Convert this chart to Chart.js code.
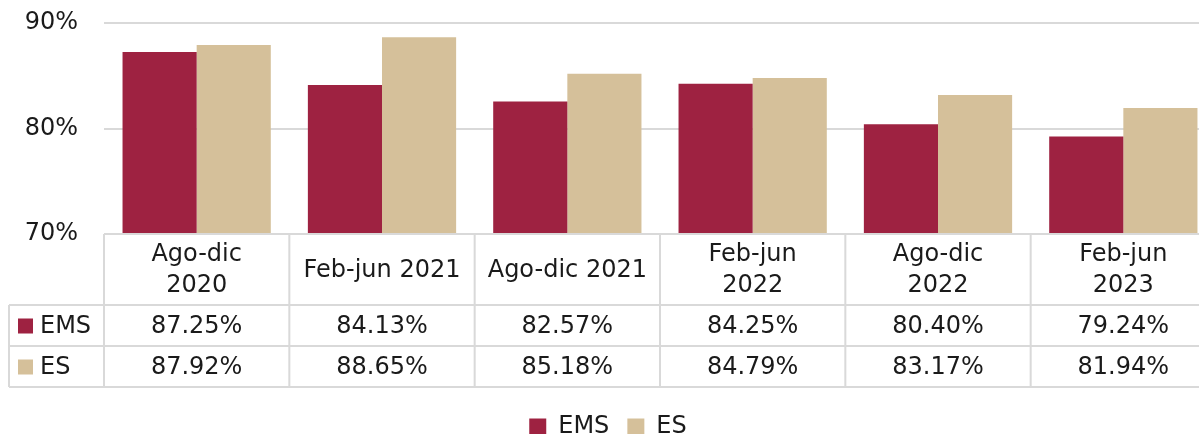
<!DOCTYPE html>
<html>
<head>
<meta charset="utf-8">
<script src="https://cdn.jsdelivr.net/npm/chart.js@4"></script>
<style>
  html, body { margin: 0; padding: 0; background: #fff; overflow: hidden; }
  #wrap { width: 1216px; height: 434px; position: relative; }
</style>
</head>
<body>
<div id="wrap"><canvas id="c"></canvas></div>
<script>
// periods, one entry per category; inner arrays are the wrapped header lines
const periods = [
  ['Ago-dic', '2020'],
  ['Feb-jun 2021'],
  ['Ago-dic 2021'],
  ['Feb-jun', '2022'],
  ['Ago-dic', '2022'],
  ['Feb-jun', '2023'],
];
const emsValues = [87.25, 84.13, 82.57, 84.25, 80.40, 79.24];
const esValues  = [87.92, 88.65, 85.18, 84.79, 83.17, 81.94];
const seriesNames = ['EMS', 'ES'];
const seriesColors = ['#9E2241', '#D5C09A'];

const FONT = 'DejaVu Sans';
const TEXT = '#1a1a1a';
const LINE = '#d9d9d9';
const TABLE_H = 153;   // header 71 + two rows of 41
const TABLE_GAP = 10;  // space between table and legend

Chart.defaults.font.family = FONT;
Chart.defaults.font.size = 24;
Chart.defaults.color = TEXT;

// data table under the plot (like an Excel chart data table)
const dataTablePlugin = {
  id: 'dataTable',
  afterDraw(chart) {
    const { ctx, chartArea, scales } = chart;
    const x = scales.x;
    const step = x.getPixelForValue(1) - x.getPixelForValue(0);
    const left = chartArea.left;
    const right = left + step * periods.length;
    const top = chartArea.bottom;
    const headH = 71, rowH = 41;
    const legendLeft = 9;
    const rows = [emsValues, esValues];

    ctx.save();
    ctx.strokeStyle = LINE;
    ctx.lineWidth = 2;
    ctx.beginPath();
    // horizontals
    ctx.moveTo(left, top); ctx.lineTo(right, top);
    for (let r = 0; r <= rows.length; r++) {
      const y = top + headH + r * rowH;
      ctx.moveTo(legendLeft, y); ctx.lineTo(right, y);
    }
    // verticals
    const bottom = top + headH + rows.length * rowH;
    ctx.moveTo(legendLeft, top + headH); ctx.lineTo(legendLeft, bottom);
    for (let i = 0; i <= periods.length; i++) {
      const xx = left + i * step;
      ctx.moveTo(xx, top); ctx.lineTo(xx, bottom);
    }
    ctx.stroke();

    ctx.fillStyle = TEXT;
    ctx.font = `24px "${FONT}"`;
    ctx.textAlign = 'center';
    ctx.textBaseline = 'middle';
    const lh = 31;
    periods.forEach((lines, i) => {
      const cx = x.getPixelForValue(i);
      const cy = top + headH / 2 + 1;
      lines.forEach((t, k) => {
        ctx.fillText(t, cx, cy + (k - (lines.length - 1) / 2) * lh);
      });
    });
    rows.forEach((vals, r) => {
      const cy = top + headH + r * rowH + rowH / 2 + 1;
      vals.forEach((v, i) => {
        ctx.fillText(v.toFixed(2) + '%', x.getPixelForValue(i), cy);
      });
      // legend key in the first column
      ctx.fillStyle = seriesColors[r];
      ctx.fillRect(18, cy - 8, 15, 15);
      ctx.fillStyle = TEXT;
      ctx.textAlign = 'left';
      ctx.fillText(seriesNames[r], 40, cy);
      ctx.textAlign = 'center';
    });
    ctx.restore();
  },
};

new Chart(document.getElementById('c'), {
  type: 'bar',
  data: {
    labels: periods,
    datasets: [
      { label: seriesNames[0], data: emsValues, backgroundColor: seriesColors[0] },
      { label: seriesNames[1], data: esValues, backgroundColor: seriesColors[1] },
    ],
  },
  options: {
    responsive: true,
    maintainAspectRatio: false,
    animation: false,
    layout: { autoPadding: false, padding: { top: 23, left: 0, right: 0, bottom: -15 } },
    datasets: { bar: { categoryPercentage: 0.8, barPercentage: 1.0 } },
    scales: {
      x: {
        grid: { display: false },
        border: { display: false },
        ticks: { display: false },
        afterFit: s => { s.height = TABLE_H + TABLE_GAP; },
      },
      y: {
        min: 70, max: 90,
        grid: { color: LINE, lineWidth: 2, drawTicks: false },
        border: { display: false },
        ticks: { stepSize: 10, padding: 26, callback: v => v + '%' },
        // tick padding would otherwise also be reserved above/below the axis
        afterFit: s => { s.width = 104; s.paddingTop = 0; s.paddingBottom = 0; },
      },
    },
    plugins: {
      legend: {
        position: 'bottom',
        labels: { boxWidth: 17, boxHeight: 17, padding: 18, font: { size: 24 } },
      },
      tooltip: { enabled: false },
    },
  },
  plugins: [dataTablePlugin],
});
</script>
</body>
</html>
